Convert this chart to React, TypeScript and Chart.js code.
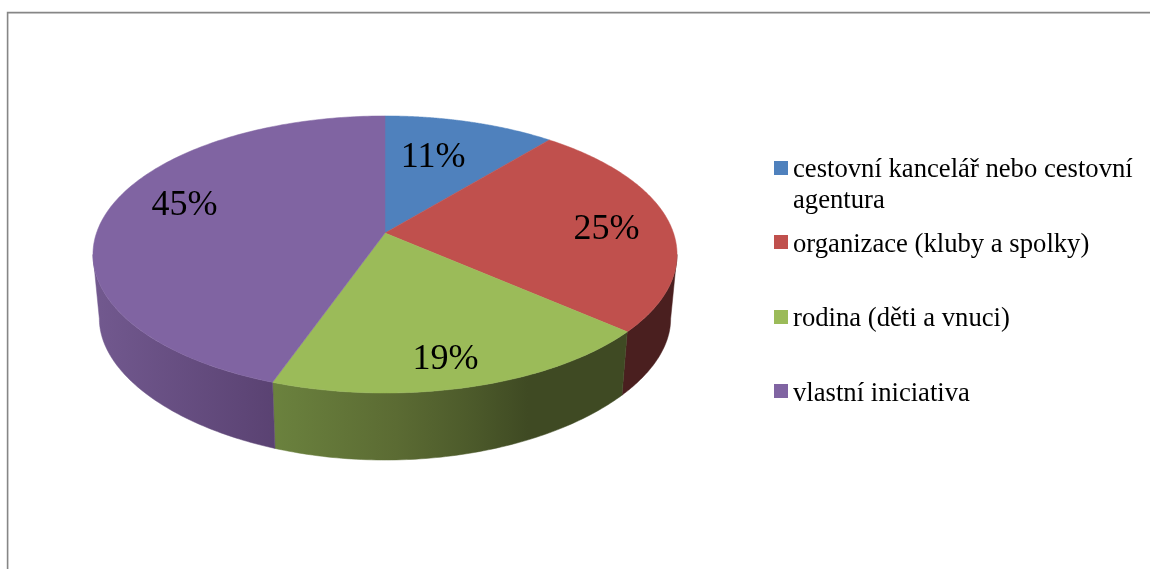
import React, { useEffect, useRef } from "react";
import { Chart, registerables } from "chart.js";

Chart.register(...registerables);

const categories = [
  "cestovní kancelář nebo cestovní agentura",
  "organizace (kluby a spolky)",
  "rodina (děti a vnuci)",
  "vlastní iniciativa",
];
const shares = [11, 25.4, 19, 44.6];
const colors = ["#4f81bd", "#c0504d", "#9bbb59", "#8064a2"];

const sideStops: [number, string][][] = [
  [[0, "#2a4565"], [1, "#2a4565"]],
  [[0, "#4a1f1f"], [1, "#4a1f1f"]],
  [[0, "#6b823e"], [0.35, "#5b6b33"], [0.55, "#4d5b2b"], [0.72, "#3f4a23"], [1, "#3f4a23"]],
  [[0, "#72598f"], [1, "#5a4272"]],
];

const labelNudge = [[-14, 5], [22, 4], [3, 24], [-5, -12]];
const legendRows = [
  { box: 161, lines: [177, 208] },
  { box: 235, lines: [252] },
  { box: 310, lines: [326] },
  { box: 384, lines: [401] },
];
const legendWrap = [["cestovní kancelář nebo cestovní", "agentura"]];

const FONT = '"Liberation Serif", "Times New Roman", serif';
const CX = 385;
const K = 0.155;

const topP = (t: number, r = 1): [number, number] => {
  const u = Math.sin(t) * r, v = Math.cos(t) * r, w = 1 + K * v;
  return [CX + (288.5 * u) / w, 233 - (135.2 * v) / w];
};
const botP = (t: number): [number, number] => {
  const u = Math.sin(t), v = Math.cos(t);
  return [CX + (282.2 * u) / (1 + K * v), 298.5 - (126 * v) / (1 + 0.22 * v)];
};

const pie3d = {
  id: "pie3d",
  beforeDatasetsDraw(chart: any) {
    const ctx: CanvasRenderingContext2D = chart.ctx;
    const arcs = chart.getDatasetMeta(0).data;
    const bg = chart.data.datasets[0].backgroundColor as string[];
    const vis0 = Math.acos(-K);
    const vis1 = 2 * Math.PI - vis0;
    const toT = (a: number) => a + Math.PI / 2;

    ctx.save();
    // frame
    ctx.strokeStyle = "#868686";
    ctx.lineWidth = 1.6;
    ctx.beginPath();
    ctx.moveTo(7.6, 569);
    ctx.lineTo(7.6, 12.6);
    ctx.lineTo(1150, 12.6);
    ctx.stroke();

    // sides
    arcs.forEach((arc: any, i: number) => {
      const a = Math.max(toT(arc.startAngle), vis0);
      const b = Math.min(toT(arc.endAngle), vis1);
      if (b <= a) return;
      const pts: [number, number][] = [];
      const n = 80;
      for (let s = 0; s <= n; s++) pts.push(topP(a + ((b - a) * s) / n));
      for (let s = n; s >= 0; s--) pts.push(botP(a + ((b - a) * s) / n));
      const xs = pts.map((p) => p[0]);
      const g = ctx.createLinearGradient(Math.min(...xs), 0, Math.max(...xs), 0);
      sideStops[i].forEach(([o, c]) => g.addColorStop(o, c));
      ctx.fillStyle = g;
      ctx.strokeStyle = g;
      ctx.lineWidth = 0.5;
      ctx.beginPath();
      pts.forEach((p, j) => (j ? ctx.lineTo(p[0], p[1]) : ctx.moveTo(p[0], p[1])));
      ctx.closePath();
      ctx.fill();
      ctx.stroke();
    });

    // top faces
    arcs.forEach((arc: any, i: number) => {
      const a = toT(arc.startAngle), b = toT(arc.endAngle);
      const n = 160;
      ctx.fillStyle = bg[i];
      ctx.strokeStyle = bg[i];
      ctx.lineWidth = 0.5;
      ctx.beginPath();
      const c = topP(0, 0);
      ctx.moveTo(c[0], c[1]);
      for (let s = 0; s <= n; s++) {
        const p = topP(a + ((b - a) * s) / n);
        ctx.lineTo(p[0], p[1]);
      }
      ctx.closePath();
      ctx.fill();
      ctx.stroke();
    });

    // value labels
    ctx.fillStyle = "#000";
    ctx.font = `36px ${FONT}`;
    ctx.textAlign = "center";
    ctx.textBaseline = "middle";
    arcs.forEach((arc: any, i: number) => {
      const mid = toT((arc.startAngle + arc.endAngle) / 2);
      const p = topP(mid, 0.7);
      const value = chart.data.datasets[0].data[i] as number;
      ctx.fillText(`${Math.round(value)}%`, p[0] + labelNudge[i][0], p[1] + labelNudge[i][1]);
    });

    // legend
    ctx.font = `26.67px ${FONT}`;
    ctx.textAlign = "left";
    ctx.textBaseline = "alphabetic";
    legendRows.forEach((row, i) => {
      ctx.fillStyle = bg[i];
      ctx.fillRect(774, row.box, 14, 14);
      ctx.fillStyle = "#000";
      const lines = legendWrap[i] ?? [chart.data.labels[i]];
      lines.forEach((t: string, j: number) => ctx.fillText(t, 793, row.lines[j]));
    });
    ctx.restore();
    return false;
  },
};

export default function App() {
  const ref = useRef<HTMLCanvasElement>(null);
  useEffect(() => {
    const chart = new Chart(ref.current!, {
      type: "pie",
      data: {
        labels: categories,
        datasets: [{ data: shares, backgroundColor: colors, borderWidth: 0 }],
      },
      options: {
        animation: false,
        responsive: false,
        plugins: { legend: { display: false }, tooltip: { enabled: false } },
      },
      plugins: [pie3d],
    } as any);
    return () => chart.destroy();
  }, []);
  return (
    <div style={{ position: "absolute", left: 0, top: 0, width: 1150, height: 569, background: "#fff" }}>
      <canvas ref={ref} width={1150} height={569} style={{ display: "block" }} />
    </div>
  );
}
